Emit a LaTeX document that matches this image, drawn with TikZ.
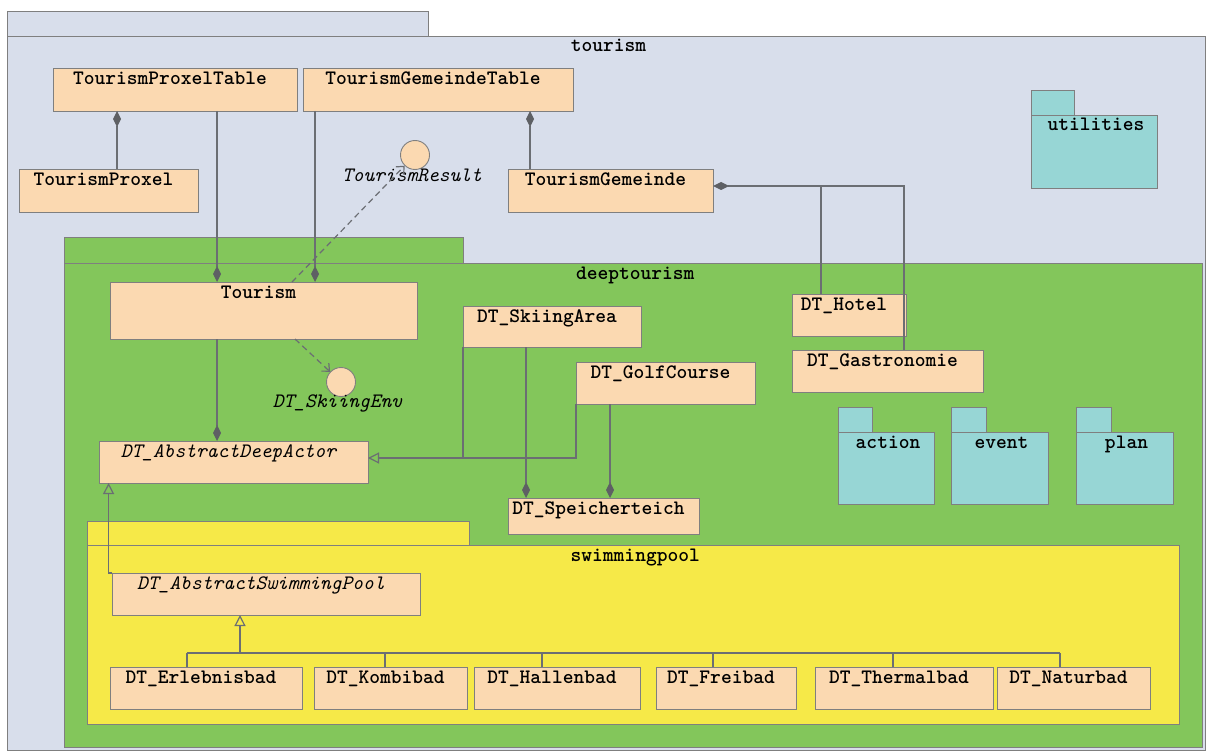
\documentclass[tikz,border=0pt]{standalone}
\usepackage{fontspec}
\usetikzlibrary{arrows.meta,calc}
\definecolor{pkgblue}{HTML}{D8DEEB}
\definecolor{pkggreen}{HTML}{83C65B}
\definecolor{pkgyellow}{HTML}{F6E948}
\definecolor{pkgteal}{HTML}{97D6D5}
\definecolor{clsfill}{HTML}{FBD9B1}
\definecolor{bordergray}{HTML}{7F7F7F}
\definecolor{linegray}{HTML}{6B6E73}
\definecolor{tipgray}{HTML}{5E6064}
\tikzset{
  boxframe/.style={draw=bordergray, line width=0.9pt},
  clsbox/.style={boxframe, fill=clsfill, rectangle, inner sep=0pt, outer sep=0pt},
  pkgbody/.style={boxframe, rectangle, inner sep=0pt, outer sep=0pt},
  clstext/.style={font=\ttfamily\bfseries\fontsize{20.5}{22}\selectfont, inner sep=0pt, anchor=base},
  abstext/.style={font=\ttfamily\itshape\fontsize{20.5}{22}\selectfont, inner sep=0pt, anchor=base},
  conn/.style={draw=linegray, line width=1.2pt},
  compline/.style={conn, -{Diamond[length=16pt,width=8pt,color=tipgray,fill=tipgray]}},
  genline/.style={conn, -{Triangle[open,length=11pt,width=11pt]}},
  realline/.style={conn, dash pattern=on 6pt off 4pt, -{Straight Barb[length=6pt,width=11pt]}},
  iface/.style={circle, boxframe, fill=clsfill, minimum size=29pt, inner sep=0pt},
}
% name x1 y1 x2 y2 textstyle text
\newcommand{\umlcls}[7]{%
  \pgfmathsetmacro\ucx{(#2+#4)/2}%
  \pgfmathsetmacro\ucy{(#3+#5)/2}%
  \pgfmathsetmacro\ucw{#4-#2}%
  \pgfmathsetmacro\uch{#5-#3}%
  \node[clsbox, minimum width=\ucw pt, minimum height=\uch pt] (#1) at (\ucx,\ucy) {};
  \node[#6] (#1-label) at ($(#1.north)+(-5,16.5)$) {#7};
}
% name x1 ytab tabx2 ybody x2 y2 fill label
\newcommand{\umlpkg}[9]{%
  \draw[boxframe, fill=#8] (#2,#3) rectangle (#4,#5);
  \pgfmathsetmacro\ucx{(#2+#6)/2}%
  \pgfmathsetmacro\ucy{(#5+#7)/2}%
  \pgfmathsetmacro\ucw{#6-#2}%
  \pgfmathsetmacro\uch{#7-#5}%
  \node[pkgbody, fill=#8, minimum width=\ucw pt, minimum height=\uch pt] (#1) at (\ucx,\ucy) {};
  \node[clstext] (#1-label) at ($(#1.north)+(2,16)$) {#9};
}
\begin{document}
\begin{tikzpicture}[x=1pt,y=-1pt]
\useasboundingbox (0,0) rectangle (1206,751);
\fill[white] (0,0) rectangle (1206,751);

% tourism package
\umlpkg{tourism}{7.6}{11}{428.6}{36}{1205.5}{750.5}{pkgblue}{tourism}
\umlcls{tpt}{53}{68}{297}{111}{clstext}{TourismProxelTable}
\umlcls{tgt}{303}{68}{573}{111}{clstext}{TourismGemeindeTable}
\umlcls{tp}{19}{169}{198}{212}{clstext}{TourismProxel}
\umlcls{tg}{508}{169}{713}{212}{clstext}{TourismGemeinde}
\node[iface] (tres) at (415,155) {};
\node[abstext] (tres-label) at (412,182) {TourismResult};
\umlpkg{utilities}{1031}{90}{1074}{115}{1157}{188}{pkgteal}{utilities}

% deeptourism package
\umlpkg{deep}{64.5}{237}{463}{263}{1202}{747}{pkggreen}{deeptourism}
\umlcls{tour}{110}{282}{417}{339}{clstext}{Tourism}
\node[iface] (senv) at (341,382) {};
\node[abstext] (senv-label) at (337.5,407) {DT\_SkiingEnv};
\umlcls{ada}{99}{441}{368}{483}{abstext}{DT\_AbstractDeepActor}
\umlcls{ski}{463}{306}{641}{347}{clstext}{DT\_SkiingArea}
\umlcls{golf}{576}{362}{755}{404}{clstext}{DT\_GolfCourse}
\umlcls{spt}{508}{498}{699}{534}{clstext}{DT\_Speicherteich}
\umlcls{hotel}{792}{294}{906}{336}{clstext}{DT\_Hotel}
\umlcls{gast}{792}{350}{983}{392}{clstext}{DT\_Gastronomie}
\umlpkg{action}{838}{407}{872}{432}{934}{504}{pkgteal}{action}
\umlpkg{event}{951}{407}{986}{432}{1048}{504}{pkgteal}{event}
\umlpkg{plan}{1076}{407}{1111}{432}{1173}{504}{pkgteal}{plan}

% swimmingpool package
\umlpkg{swim}{87.5}{521}{469.5}{545}{1179}{724}{pkgyellow}{swimmingpool}
\umlcls{asp}{112}{573}{420}{615}{abstext}{DT\_AbstractSwimmingPool}
\umlcls{erl}{110}{667}{302}{709}{clstext}{DT\_Erlebnisbad}
\umlcls{kom}{314}{667}{467}{709}{clstext}{DT\_Kombibad}
\umlcls{hal}{474}{667}{640}{709}{clstext}{DT\_Hallenbad}
\umlcls{frei}{656}{667}{796}{709}{clstext}{DT\_Freibad}
\umlcls{therm}{815}{667}{993}{709}{clstext}{DT\_Thermalbad}
\umlcls{natur}{997}{667}{1150}{709}{clstext}{DT\_Naturbad}

% connectors
\draw[compline] (117,0 |- tp.north) -- (117,0 |- tpt.south);
\draw[compline] (530,0 |- tg.north) -- (530,0 |- tgt.south);
\draw[compline] (217,0 |- tpt.south) -- (217,0 |- tour.north);
\draw[compline] (315,0 |- tgt.south) -- (315,0 |- tour.north);
\draw[compline] (217,0 |- tour.south) -- (217,0 |- ada.north);
\draw[compline] (526,0 |- ski.south) -- (526,0 |- spt.north);
\draw[compline] (610,0 |- golf.south) -- (610,0 |- spt.north);
\coordinate (gemjoin) at (821,186);
\draw[compline] (821,0 |- hotel.north) -- (gemjoin) -- (tg.east |- gemjoin);
\draw[conn] (904,0 |- gast.north) -- (904,186) -- (gemjoin);

\draw[realline] (292,0 |- tour.north) -- (tres);
\draw[realline] (295,0 |- tour.south) -- (senv);

\coordinate (adajoin) at (ski.south west |- 0,458);
\draw[genline] (ski.south west) -- (adajoin) -- (ada.east |- adajoin);
\draw[conn] (golf.south west) -- (golf.south west |- adajoin) -- (adajoin);

\draw[genline] (asp.north west) -- (108.6,0 |- asp.north west) -- (108.6,0 |- ada.south);

\coordinate (junc) at (240,653);
\draw[genline] (junc) -- (240,0 |- asp.south);
\draw[conn] (187,0 |- junc) -- (1060,0 |- junc);
\draw[conn] (187,0 |- erl.north) -- (187,0 |- junc);
\draw[conn] (385,0 |- kom.north) -- (385,0 |- junc);
\draw[conn] (542,0 |- hal.north) -- (542,0 |- junc);
\draw[conn] (713,0 |- frei.north) -- (713,0 |- junc);
\draw[conn] (893,0 |- therm.north) -- (893,0 |- junc);
\draw[conn] (1060,0 |- natur.north) -- (1060,0 |- junc);
\end{tikzpicture}
\end{document}
